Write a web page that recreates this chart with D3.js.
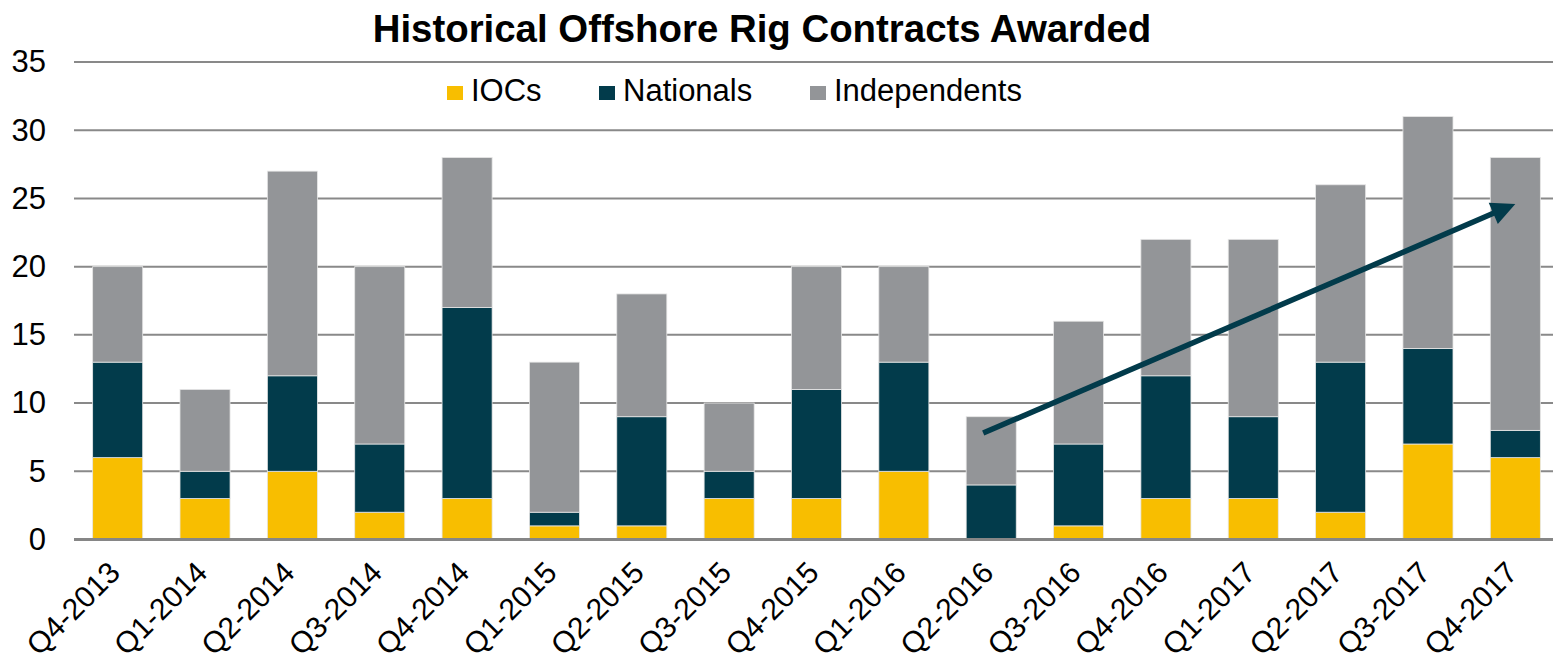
<!DOCTYPE html>
<html>
<head>
<meta charset="utf-8">
<script src="https://cdn.jsdelivr.net/npm/d3@7"></script>
<style>
  html, body { margin: 0; padding: 0; background: #fff; overflow: hidden; }
  text { font-family: "Liberation Sans", Arial, sans-serif; fill: #000; }
</style>
</head>
<body>
<svg id="chart" width="1553" height="667"></svg>
<script>
const categories = ["Q4-2013","Q1-2014","Q2-2014","Q3-2014","Q4-2014","Q1-2015","Q2-2015","Q3-2015","Q4-2015","Q1-2016","Q2-2016","Q3-2016","Q4-2016","Q1-2017","Q2-2017","Q3-2017","Q4-2017"];
const seriesNames = ["IOCs","Nationals","Independents"];
const iocs         = [6, 3, 5, 2, 3, 1, 1, 3, 3, 5, 0, 1, 3, 3, 2, 7, 6];
const nationals    = [7, 2, 7, 5, 14, 1, 8, 2, 8, 8, 4, 6, 9, 6, 11, 7, 2];
const independents = [7, 6, 15, 13, 11, 11, 9, 5, 9, 7, 5, 9, 10, 13, 13, 17, 20];
const yTicks = [0, 5, 10, 15, 20, 25, 30, 35];
const titleText = "Historical Offshore Rig Contracts Awarded";
// trend arrow annotation (category, value)
const arrowFrom = ["Q2-2016", 7.8];
const arrowTo   = ["Q4-2017", 24.6];

const colors = {"IOCs": "#F8BE00", "Nationals": "#023B4B", "Independents": "#939598"};

(function () {
const svg = d3.select("#chart");
const pLeft = 74, pRight = 1559, pTop = 62, pBottom = 539.5;

const x = d3.scaleBand().domain(categories).range([pLeft, pRight])
  .paddingInner(0.427).paddingOuter(0.2135);
const y = d3.scaleLinear().domain([0, 35]).range([pBottom, pTop]);

// gridlines
svg.append("g").selectAll("line").data(yTicks.filter(d => d > 0)).join("line")
  .attr("x1", pLeft).attr("x2", 1553)
  .attr("y1", d => y(d)).attr("y2", d => y(d))
  .attr("stroke", "#898989").attr("stroke-width", 2);

// stacked data
const rows = categories.map((c, i) => ({cat: c, IOCs: iocs[i], Nationals: nationals[i], Independents: independents[i]}));
const stacked = d3.stack().keys(seriesNames)(rows);

svg.append("g").selectAll("g").data(stacked).join("g")
  .attr("fill", d => colors[d.key])
  .selectAll("rect").data(d => d).join("rect")
  .attr("x", d => x(d.data.cat))
  .attr("width", x.bandwidth())
  .attr("y", d => y(d[1]))
  .attr("height", d => y(d[0]) - y(d[1]))
  .attr("stroke", "#e6e6e6").attr("stroke-width", 0.8);

// baseline
svg.append("line").attr("x1", pLeft).attr("x2", 1553)
  .attr("y1", y(0)).attr("y2", y(0))
  .attr("stroke", "#868686").attr("stroke-width", 3);

// y tick labels
const yAxis = d3.axisLeft(y).tickValues(yTicks).tickSize(0).tickPadding(0);
const ya = svg.append("g").attr("transform", `translate(${pLeft - 28},0)`).call(yAxis);
ya.select(".domain").remove();
ya.selectAll("text").attr("font-size", 31).attr("font-family", '"Liberation Sans", Arial, sans-serif').attr("fill", "#000");

// x labels
const xAxis = d3.axisBottom(x).tickSize(0).tickPadding(0);
const xa = svg.append("g").attr("transform", `translate(0,${pBottom})`).call(xAxis);
xa.select(".domain").remove();
xa.selectAll("text")
  .attr("font-size", 30).attr("font-family", '"Liberation Sans", Arial, sans-serif').attr("fill", "#000")
  .attr("text-anchor", "end").attr("dy", null).attr("y", null)
  .attr("transform", "translate(4,35) rotate(-45)");

// title
svg.append("text").attr("x", 762).attr("y", 42).attr("text-anchor", "middle")
  .attr("font-size", 38.4).attr("font-weight", "bold").text(titleText);

// legend
const legendPos = [447, 599, 810];
const lg = svg.append("g").selectAll("g").data(seriesNames).join("g")
  .attr("transform", (d, i) => `translate(${legendPos[i]},0)`);
lg.append("rect").attr("x", 0).attr("y", 86).attr("width", 16).attr("height", 14).attr("fill", d => colors[d]);
lg.append("text").attr("x", 24).attr("y", 101).attr("font-size", 31).text(d => d);

// arrow
const x0 = x(arrowFrom[0]) + x.bandwidth() / 2 - 8, y0 = y(arrowFrom[1]);
const x1 = x(arrowTo[0]) + x.bandwidth() / 2, y1 = y(arrowTo[1]);
const ang = Math.atan2(y1 - y0, x1 - x0);
const headLen = 24, headW = 23;
const bx = x1 - headLen * Math.cos(ang), by = y1 - headLen * Math.sin(ang);
svg.append("line").attr("x1", x0).attr("y1", y0).attr("x2", bx + 2 * Math.cos(ang)).attr("y2", by + 2 * Math.sin(ang))
  .attr("stroke", "#023B4B").attr("stroke-width", 5.5);
const px = -Math.sin(ang), py = Math.cos(ang);
svg.append("path")
  .attr("d", d3.line()([[x1, y1], [bx + px * headW / 2, by + py * headW / 2], [bx - px * headW / 2, by - py * headW / 2]]) + "Z")
  .attr("fill", "#023B4B");
})();
</script>
</body>
</html>
